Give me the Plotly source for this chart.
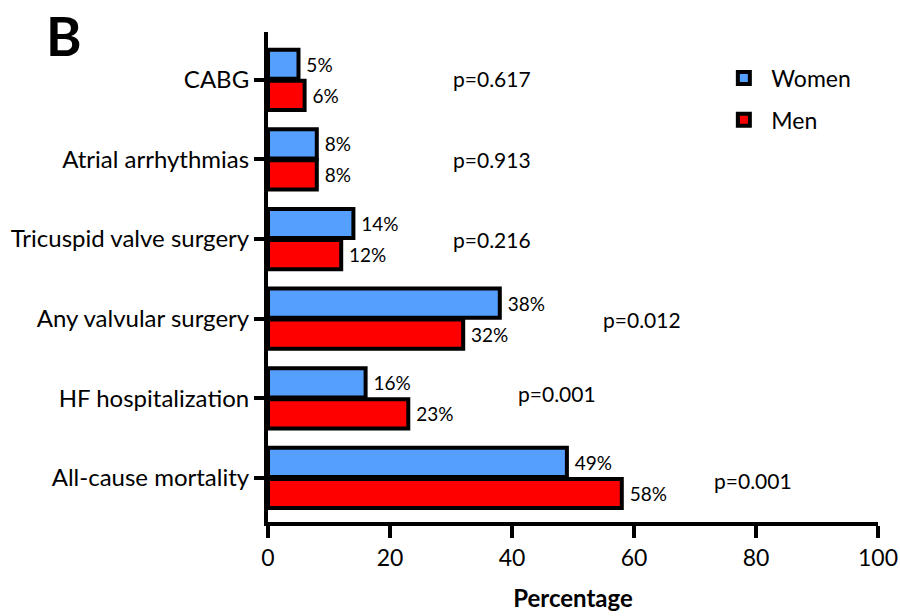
import plotly.graph_objects as go

# Outcomes listed bottom-to-top as they appear on the axis
outcomes = ["All-cause mortality", "HF hospitalization", "Any valvular surgery",
            "Tricuspid valve surgery", "Atrial arrhythmias", "CABG"]
women = [49, 16, 38, 14, 8, 5]
men = [58, 23, 32, 12, 8, 6]
p_values = ["p=0.001", "p=0.001", "p=0.012", "p=0.216", "p=0.913", "p=0.617"]
p_x = [72.8, 40.7, 54.6, 30.0, 30.0, 30.0]
p_dy = [-0.03, 0.06, -0.01, 0.0, 0.0, 0.02]

FONT = "Lato"
BLUE = "#559FFF"
RED = "#FF0000"

fig = go.Figure()
fig.add_trace(go.Bar(
    y=outcomes, x=men, orientation="h", name="Men", legendgroup="men", legendrank=2,
    marker=dict(color=RED, line=dict(color="black", width=4)),
    text=[f"{v}%" for v in men], texttemplate=" %{text}", textposition="outside",
    textfont=dict(size=19, color="black", family=FONT), cliponaxis=False,
))
fig.add_trace(go.Bar(
    y=outcomes, x=women, orientation="h", name="Women", legendgroup="women", legendrank=1,
    marker=dict(color=BLUE, line=dict(color="black", width=4)),
    text=[f"{v}%" for v in women], texttemplate=" %{text}", textposition="outside",
    textfont=dict(size=19, color="black", family=FONT), cliponaxis=False,
))

for i, (label, px) in enumerate(zip(p_values, p_x)):
    fig.add_annotation(x=px, y=i + p_dy[i], xref="x", yref="y", text=label,
                       showarrow=False, xanchor="left", yanchor="middle",
                       font=dict(size=21, color="black", family=FONT))

# Panel letter
fig.add_annotation(x=-0.367, y=0.993, xref="paper", yref="paper", text="<b>B</b>",
                   showarrow=False, xanchor="left", yanchor="middle",
                   font=dict(size=54, color="black", family=FONT))

fig.update_layout(
    width=900, height=616,
    margin=dict(l=268, r=22, t=32, b=94),
    plot_bgcolor="white", paper_bgcolor="white",
    barmode="group", bargap=0.22, bargroupgap=0.06,
    font=dict(family=FONT, size=23, color="black"),
    showlegend=True,
    legend=dict(x=0.735, y=0.95, xanchor="left", yanchor="top",
                traceorder="grouped", font=dict(size=23, family=FONT),
                tracegroupgap=9, itemwidth=45, bgcolor="rgba(0,0,0,0)"),
    xaxis=dict(range=[0, 100], tickvals=[0, 20, 40, 60, 80, 100], automargin=False,
               showline=True, linecolor="black", linewidth=4,
               ticks="outside", ticklen=12, tickwidth=4, tickcolor="black",
               showgrid=False, zeroline=False,
               tickfont=dict(size=23, family=FONT),
               title=dict(text="<b>Percentage</b>", font=dict(size=24, family=FONT),
                          standoff=22)),
    yaxis=dict(type="category", range=[-0.553, 5.6], automargin=False,
               showline=True, linecolor="black", linewidth=4,
               ticks="outside", ticklen=10, tickwidth=4, tickcolor="black",
               showgrid=False, zeroline=False,
               tickfont=dict(size=24, family=FONT)),
)

fig.write_html("out.html")
